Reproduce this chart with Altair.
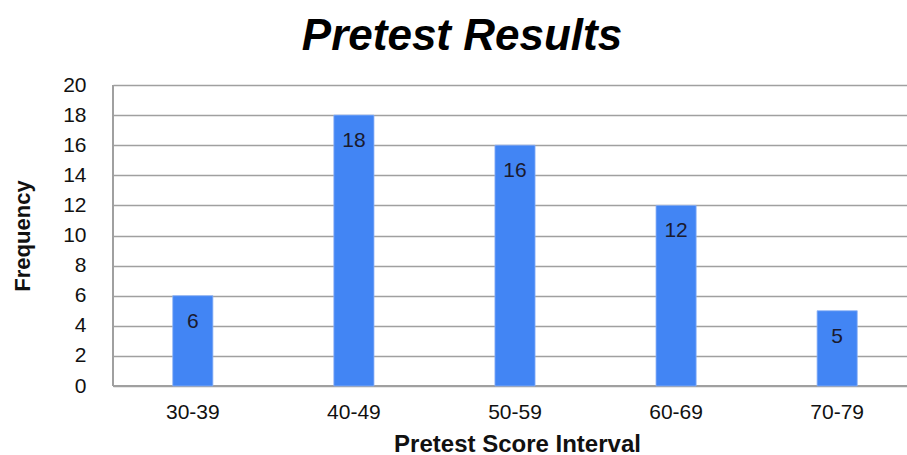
import altair as alt
import pandas as pd

intervals = ["30-39", "40-49", "50-59", "60-69", "70-79"]
frequency = [6, 18, 16, 12, 5]
y_ticks = list(range(0, 21, 2))

df = pd.DataFrame({"interval": intervals, "freq": frequency})

FONT = "Liberation Sans"

base = alt.Chart(df).encode(
    x=alt.X(
        "interval:N",
        sort=intervals,
        title="Pretest Score Interval",
        scale=alt.Scale(range=[0, 804], paddingInner=0.751, paddingOuter=0.371),
        axis=alt.Axis(
            labelAngle=0, labelFontSize=21, labelFont=FONT, labelColor="#111111",
            labelPadding=15, ticks=False, domain=False, grid=False,
            titleFontSize=24, titleFont=FONT, titleFontWeight="bold", titleColor="#111111",
            titlePadding=10, titleX=404,
        ),
    ),
    y=alt.Y(
        "freq:Q",
        title="Frequency",
        scale=alt.Scale(domain=[0, 20], nice=False),
        axis=alt.Axis(
            values=y_ticks, labelFontSize=21, labelFont=FONT, labelColor="#111111",
            labelPadding=27, ticks=False, domain=False,
            gridColor="#a0a0a0", gridWidth=1.5, gridOpacity=1,
            titleFontSize=22, titleFont=FONT, titleFontWeight="bold", titleColor="#111111",
            titlePadding=28,
        ),
    ),
)

bars = base.mark_bar(color="#4285f4", stroke="#8ab0f5", strokeWidth=0.8)
labels = base.mark_text(
    baseline="middle", dy=26, fontSize=21, font=FONT, color="#1a1a2e"
).encode(text="freq:Q")

frame_left = alt.Chart(df).mark_rule(color="#a0a0a0", strokeWidth=2).encode(
    x=alt.value(0), y=alt.value(0), y2=alt.value(301)
)
frame_bottom = alt.Chart(df).mark_rule(color="#a0a0a0", strokeWidth=2).encode(
    x=alt.value(0), x2=alt.value(794), y=alt.value(301)
)

chart = alt.layer(frame_left, frame_bottom, bars, labels).properties(
    width=794,
    height=301,
    autosize=alt.AutoSizeParams(type="none"),
    padding={"left": 113, "top": 85, "right": 0, "bottom": 69},
    title=alt.Title(
        "Pretest Results", fontSize=44, font=FONT, fontWeight="bold", fontStyle="italic",
        color="#000000", anchor="middle", dx=-48, offset=15,
    ),
).configure_view(stroke=None).configure(background="white")

chart.save("out.html", embed_options={"renderer": "svg", "actions": False})
